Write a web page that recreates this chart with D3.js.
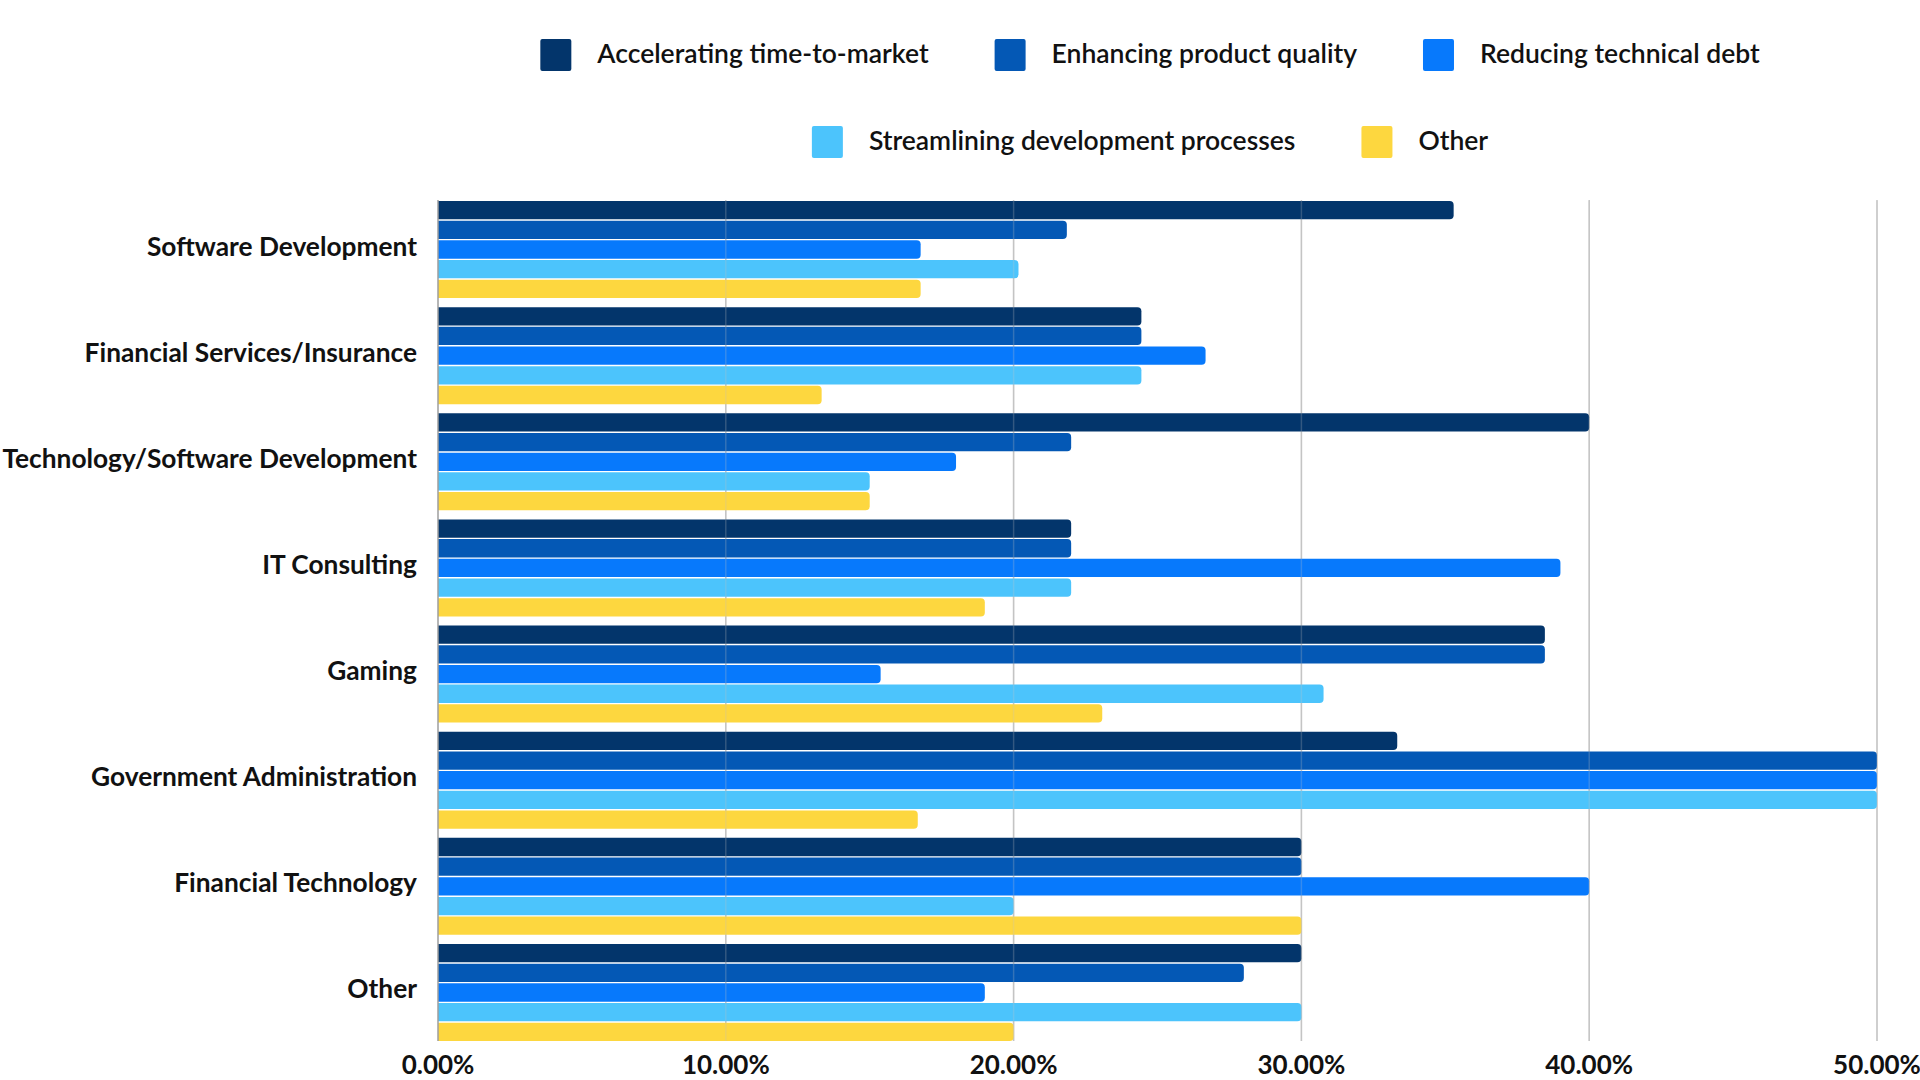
<!DOCTYPE html>
<html>
<head>
<meta charset="utf-8">
<script src="https://cdn.jsdelivr.net/npm/d3@7"></script>
<style>
  body { margin: 0; background: #fff; }
  text { font-family: Lato, "Noto Sans", sans-serif; }
</style>
</head>
<body>
<div id="chart"></div>
<script>
// categories (top to bottom) and series
var categories = ["Software Development", "Financial Services/Insurance", "Technology/Software Development",
                  "IT Consulting", "Gaming", "Government Administration", "Financial Technology", "Other"];
var seriesNames = ["Accelerating time-to-market", "Enhancing product quality", "Reducing technical debt",
                   "Streamlining development processes", "Other"];
var seriesColors = ["#03356b", "#0458b5", "#0779fc", "#4cc4fc", "#fdd73f"];

// values in percent, one array per series, same order as categories
var timeToMarket   = [35.29, 24.44, 40.00, 22.00, 38.46, 33.33, 30.00, 30.00];
var productQuality = [21.85, 24.44, 22.00, 22.00, 38.46, 50.00, 30.00, 28.00];
var technicalDebt  = [16.77, 26.67, 18.00, 39.00, 15.38, 50.00, 40.00, 19.00];
var streamlining   = [20.17, 24.44, 15.00, 22.00, 30.77, 50.00, 20.00, 30.00];
var otherReason    = [16.77, 13.33, 15.00, 19.00, 23.08, 16.67, 30.00, 20.00];
var tickValues = [0, 10, 20, 30, 40, 50];

var seriesValues = [timeToMarket, productQuality, technicalDebt, streamlining, otherReason];

var width = 1920, height = 1080;
var plot = { left: 438, right: 1877, top: 201, bottom: 1041 };

var svg = d3.select("#chart").append("svg")
    .attr("width", width)
    .attr("height", height);

var x = d3.scaleLinear().domain([0, 50]).range([plot.left, plot.right]);
var y0 = d3.scaleBand().domain(categories).range([plot.top, plot.bottom])
    .paddingInner(0.086).paddingOuter(0);
var y1 = d3.scaleBand().domain(d3.range(seriesNames.length)).range([0, y0.bandwidth()])
    .paddingInner(0.07);

// gridlines
svg.append("g").selectAll("line")
    .data(tickValues.slice(1))
    .enter().append("line")
    .attr("x1", function(d) { return x(d); })
    .attr("x2", function(d) { return x(d); })
    .attr("y1", plot.top - 1)
    .attr("y2", plot.bottom)
    .attr("stroke", "#c4c4c4")
    .attr("stroke-width", 1.5);

// bar with rounded right end
function barPath(x0, yy, w, h, r) {
    r = Math.min(r, w, h / 2);
    return "M" + x0 + "," + yy +
        "H" + (x0 + w - r) +
        "Q" + (x0 + w) + "," + yy + " " + (x0 + w) + "," + (yy + r) +
        "V" + (yy + h - r) +
        "Q" + (x0 + w) + "," + (yy + h) + " " + (x0 + w - r) + "," + (yy + h) +
        "H" + x0 + "Z";
}

var rows = [];
categories.forEach(function(c, i) {
    seriesValues.forEach(function(vals, s) {
        rows.push({ cat: c, s: s, value: vals[i] });
    });
});

svg.append("g").selectAll("path")
    .data(rows)
    .enter().append("path")
    .attr("d", function(d) {
        return barPath(x(0), y0(d.cat) + y1(d.s), x(d.value) - x(0), y1.bandwidth(), 4);
    })
    .attr("fill", function(d) { return seriesColors[d.s]; });

// faint gridlines showing through bars
svg.append("g").selectAll("line")
    .data(tickValues.slice(1))
    .enter().append("line")
    .attr("x1", function(d) { return x(d); })
    .attr("x2", function(d) { return x(d); })
    .attr("y1", plot.top)
    .attr("y2", plot.bottom)
    .attr("stroke", "#c4c4c4")
    .attr("stroke-opacity", 0.25)
    .attr("stroke-width", 1.5);

// axis line at zero
svg.append("line")
    .attr("x1", x(0)).attr("x2", x(0))
    .attr("y1", plot.top - 1).attr("y2", plot.bottom)
    .attr("stroke", "#9e9e9e")
    .attr("stroke-width", 1.5);

// category labels
svg.append("g").selectAll("text")
    .data(categories)
    .enter().append("text")
    .attr("x", 417)
    .attr("y", function(d) { return y0(d) + y0.bandwidth() / 2 - 4; })
    .attr("text-anchor", "end")
    .attr("dominant-baseline", "central")
    .attr("font-size", "26.3px")
    .attr("font-weight", 700)
    .attr("fill", "#111")
    .text(function(d) { return d; });

// tick labels
svg.append("g").selectAll("text")
    .data(tickValues)
    .enter().append("text")
    .attr("x", function(d) { return x(d); })
    .attr("y", 1074)
    .attr("text-anchor", "middle")
    .attr("font-size", "26px")
    .attr("font-weight", 700)
    .attr("fill", "#111")
    .text(function(d) { return d.toFixed(2) + "%"; });

// legend, two centred rows
var legendRows = [[0, 1, 2], [3, 4]];
var legendY = [55, 142];
var legendCenter = 1150;
var swatch = 31, swatchGap = 26, itemGap = 66;

legendRows.forEach(function(items, r) {
    var g = svg.append("g");
    var xpos = 0;
    items.forEach(function(s, k) {
        var item = g.append("g").attr("transform", "translate(" + xpos + ",0)");
        item.append("rect")
            .attr("x", 0)
            .attr("y", legendY[r] - 16)
            .attr("width", swatch)
            .attr("height", 32)
            .attr("rx", 2)
            .attr("fill", seriesColors[s]);
        var t = item.append("text")
            .attr("x", swatch + swatchGap)
            .attr("y", legendY[r] - 2)
            .attr("dominant-baseline", "central")
            .attr("font-size", "26.5px")
            .attr("font-weight", 600)
            .attr("fill", "#111")
            .text(seriesNames[s]);
        xpos += swatch + swatchGap + t.node().getComputedTextLength() + itemGap;
    });
    var total = xpos - itemGap;
    g.attr("transform", "translate(" + (legendCenter - total / 2) + ",0)");
});
</script>
</body>
</html>
